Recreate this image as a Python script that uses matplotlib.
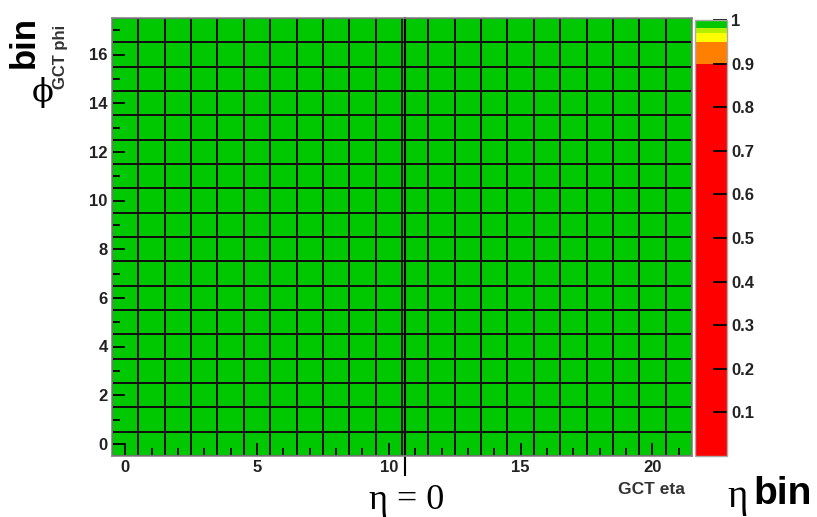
import numpy as np
import matplotlib
matplotlib.use("Agg")
import matplotlib.pyplot as plt
from matplotlib.colors import ListedColormap, BoundaryNorm
from matplotlib.cm import ScalarMappable

# ---- data ----
eta_bins = list(range(22))   # GCT eta 0..21
phi_bins = list(range(18))   # GCT phi 0..17
row = [1.0, 1.0, 1.0, 1.0, 1.0, 1.0, 1.0, 1.0, 1.0, 1.0, 1.0,
       1.0, 1.0, 1.0, 1.0, 1.0, 1.0, 1.0, 1.0, 1.0, 1.0, 1.0]
efficiency = [list(row) for _ in phi_bins]   # every cell reads 1 (green)
cbar_ticks = [0.1, 0.2, 0.3, 0.4, 0.5, 0.6, 0.7, 0.8, 0.9, 1.0]
cbar_ticklabels = ["0.1", "0.2", "0.3", "0.4", "0.5", "0.6", "0.7", "0.8", "0.9", "1"]
x_major = [0, 5, 10, 15, 20]
y_major = [0, 2, 4, 6, 8, 10, 12, 14, 16]
eta_zero_pos = 10.6

# ---- style ----
GREEN = "#00c800"
cmap = ListedColormap(["#ff0000", "#ff7f00", "#ffff00", "#b4ee00", GREEN])
bounds = [0.0, 0.9, 0.95, 0.97, 0.982, 1.0]
norm = BoundaryNorm(bounds, cmap.N)
TICK_FS = 12
TICK_COLOR = "#222222"

fig = plt.figure(figsize=(8.17, 5.17), dpi=100)
ax = fig.add_axes([112 / 817, 1 - 456 / 517, 580 / 817, 438 / 517])
cax = fig.add_axes([695 / 817, 1 - 456 / 517, 32 / 817, 436 / 517])

data = np.array(efficiency)
x_edges = np.arange(len(eta_bins) + 1) - 0.5
y_edges = np.arange(len(phi_bins) + 1) - 0.5
ax.pcolormesh(x_edges, y_edges, data, cmap=cmap, norm=norm,
              edgecolors="#101010", linewidth=1.3)
ax.set_xlim(-0.5, 21.5)
ax.set_ylim(-0.5, 17.5)

ax.set_xticks(x_major)
ax.set_xticks(eta_bins, minor=True)
ax.set_yticks(y_major)
ax.set_yticks(phi_bins, minor=True)
ax.tick_params(axis="both", which="major", direction="in", length=9.5, width=1.3,
               color="black", pad=3)
ax.tick_params(axis="both", which="minor", direction="in", length=5.5, width=1.3,
               color="black")
for lab in ax.get_xticklabels() + ax.get_yticklabels():
    lab.set_fontfamily("Liberation Sans")
    lab.set_fontweight("bold")
    lab.set_fontsize(TICK_FS)
    lab.set_color(TICK_COLOR)
for s in ax.spines.values():
    s.set_color("#888888")
    s.set_linewidth(1.2)

# colorbar
sm = ScalarMappable(norm=norm, cmap=cmap)
cb = fig.colorbar(sm, cax=cax, boundaries=bounds, spacing="proportional",
                  orientation="vertical")
cb.minorticks_off()
cb.set_ticks(cbar_ticks)
cb.set_ticklabels(cbar_ticklabels)
cax.set_ylim(0, 1)
cax.yaxis.set_ticks_position("right")
cax.tick_params(which="both", direction="in", length=10, width=1.3, pad=3, color="black")
for lab in cax.get_yticklabels():
    lab.set_fontfamily("Liberation Sans")
    lab.set_fontweight("bold")
    lab.set_fontsize(TICK_FS)
    lab.set_color(TICK_COLOR)
cb.outline.set_edgecolor("#aaaaaa")
cb.outline.set_linewidth(1.0)

# eta = 0 line
trans = matplotlib.transforms.blended_transform_factory(ax.transData, ax.transAxes)
ax.plot([eta_zero_pos, eta_zero_pos], [1.0, -0.043], color="black", lw=1.5,
        transform=trans, clip_on=False)
fig.text(407 / 817, 1 - 509 / 517, "η = 0", family="Liberation Serif", fontsize=26,
         ha="center", va="baseline")

# axis labels
fig.text(651 / 817, 1 - 490 / 517, "GCT eta", family="Liberation Sans", fontsize=12.5,
         weight="bold", color="#333333", ha="center", va="center")
fig.text(60 / 817, 1 - 57 / 517, "GCT phi", family="Liberation Sans", fontsize=12,
         weight="bold", color="#333333", ha="center", va="center", rotation=90)

# big annotations
fig.text(738 / 817, 1 - 497 / 517, "η", family="Liberation Serif", fontsize=28,
         ha="center", va="center")
fig.text(783 / 817, 1 - 494 / 517, "bin", family="Liberation Sans", fontsize=28,
         weight="bold", ha="center", va="center")
fig.text(24 / 817, 1 - 42 / 517, "bin", family="Liberation Sans", fontsize=25,
         weight="bold", ha="center", va="center", rotation=90)
fig.text(43 / 817, 1 - 92 / 517, "ϕ", family="DejaVu Serif", fontsize=23,
         ha="center", va="center")

fig.savefig("out.png", dpi=100)
